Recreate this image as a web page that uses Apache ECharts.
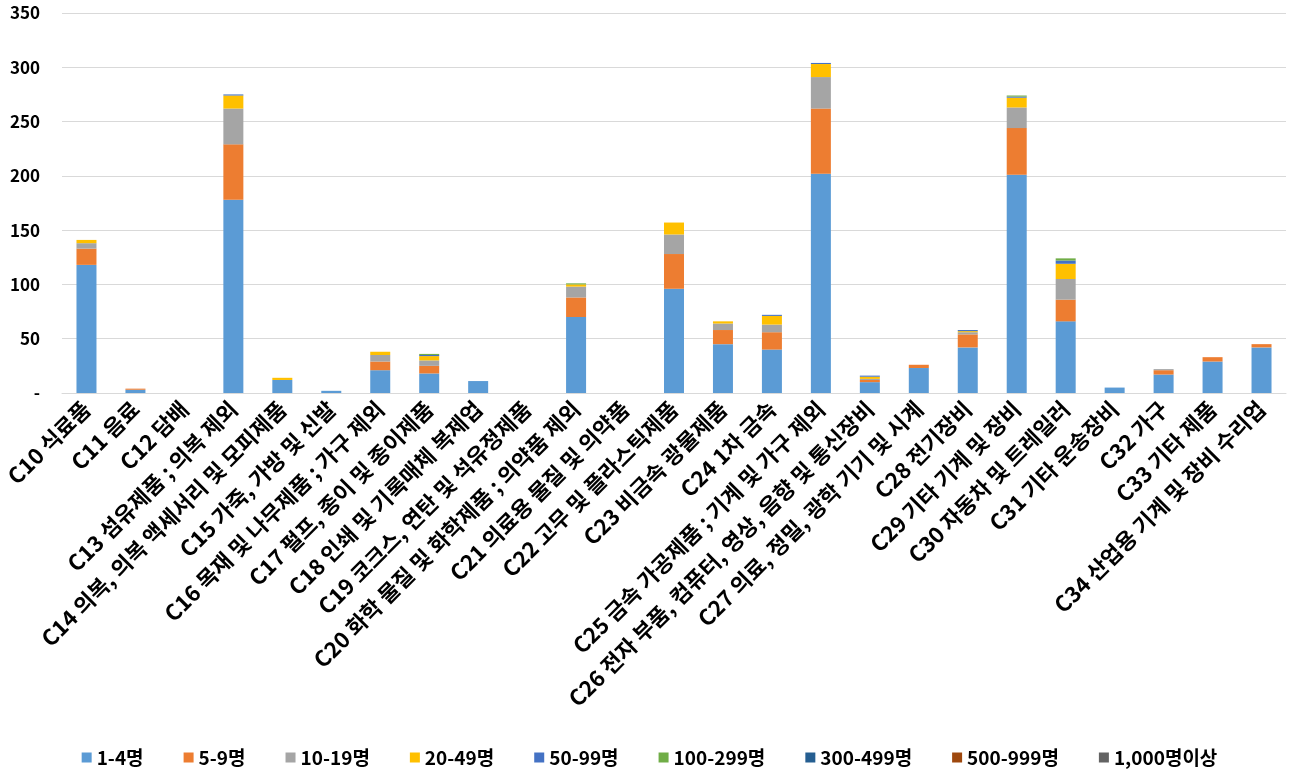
<!DOCTYPE html>
<html>
<head>
<meta charset="utf-8">
<script src="https://cdn.jsdelivr.net/npm/echarts@6/dist/echarts.min.js"></script>
<style>
html,body{margin:0;padding:0;background:#fff;}
#chart{width:1299px;height:780px;}
</style>
</head>
<body>
<div id="chart"></div>
<script>
const categories = [
  'C10 식료품','C11 음료','C12 담배','C13 섬유제품 ; 의복 제외','C14 의복, 의복 액세서리 및 모피제품',
  'C15 가죽, 가방 및 신발','C16 목재 및 나무제품 ; 가구 제외','C17 펄프, 종이 및 종이제품','C18 인쇄 및 기록매체 복제업',
  'C19 코크스, 연탄 및 석유정제품','C20 화학 물질 및 화학제품 ; 의약품 제외','C21 의료용 물질 및 의약품',
  'C22 고무 및 플라스틱제품','C23 비금속 광물제품','C24 1차 금속','C25 금속 가공제품 ; 기계 및 가구 제외',
  'C26 전자 부품, 컴퓨터, 영상, 음향 및 통신장비','C27 의료, 정밀, 광학 기기 및 시계','C28 전기장비',
  'C29 기타 기계 및 장비','C30 자동차 및 트레일러','C31 기타 운송장비','C32 가구','C33 기타 제품',
  'C34 산업용 기계 및 장비 수리업'
];
const seriesNames = ['1-4명','5-9명','10-19명','20-49명','50-99명','100-299명','300-499명','500-999명','1,000명이상'];
const s1_4     = [118, 3, 0, 178, 12, 2, 21, 18, 11, 0, 70, 0, 96, 45, 40, 202, 10, 23, 42, 201, 66, 5, 17, 29, 42];
const s5_9     = [15, 1, 0, 51, 0, 0, 8, 7, 0, 0, 18, 0, 32, 13, 16, 60, 2, 3, 12, 43, 20, 0, 4, 4, 3];
const s10_19   = [5, 0, 0, 33, 0, 0, 6, 5, 0, 0, 10, 0, 18, 6, 7, 29, 1, 0, 2, 19, 19, 0, 1, 0, 0];
const s20_49   = [3, 0, 0, 12, 2, 0, 3, 4, 0, 0, 2, 0, 11, 2, 8, 12, 2, 0, 1, 9, 14, 0, 0, 0, 0];
const s50_99   = [0, 0, 0, 1, 0, 0, 0, 1, 0, 0, 0, 0, 0, 0, 1, 1, 1, 0, 1, 1, 3, 0, 0, 0, 0];
const s100_299 = [0, 0, 0, 0, 0, 0, 0, 1, 0, 0, 1, 0, 0, 0, 0, 0, 0, 0, 0, 1, 2, 0, 0, 0, 0];
const s300_499 = [0, 0, 0, 0, 0, 0, 0, 0, 0, 0, 0, 0, 0, 0, 0, 0, 0, 0, 0, 0, 0, 0, 0, 0, 0];
const s500_999 = [0, 0, 0, 0, 0, 0, 0, 0, 0, 0, 0, 0, 0, 0, 0, 0, 0, 0, 0, 0, 0, 0, 0, 0, 0];
const s1000    = [0, 0, 0, 0, 0, 0, 0, 0, 0, 0, 0, 0, 0, 0, 0, 0, 0, 0, 0, 0, 0, 0, 0, 0, 0];
const yTicks = [0, 50, 100, 150, 200, 250, 300, 350];

const allData = [s1_4, s5_9, s10_19, s20_49, s50_99, s100_299, s300_499, s500_999, s1000];
const colors = ['#5B9BD5','#ED7D31','#A5A5A5','#FFC000','#4472C4','#70AD47','#255E91','#9E480E','#636363'];
const font = '"Noto Sans CJK KR",sans-serif';

const chart = echarts.init(document.getElementById('chart'));
chart.setOption({
  animation: false,
  color: colors,
  textStyle: { fontFamily: font },
  grid: { left: 62, right: 13, top: 13, bottom: 387 },
  legend: {
    bottom: 8,
    left: 'center',
    itemWidth: 10,
    itemHeight: 10,
    itemGap: 40,
    icon: 'rect',
    textStyle: { fontSize: 19, fontWeight: 'bold', color: '#000', fontFamily: font },
    data: seriesNames
  },
  xAxis: {
    type: 'category',
    data: categories,
    axisLine: { lineStyle: { color: '#d9d9d9', width: 1 } },
    axisTick: { show: false },
    axisLabel: {
      interval: 0,
      rotate: 45,
      margin: 12,
      fontSize: 22,
      fontWeight: 'bold',
      color: '#000',
      fontFamily: font
    }
  },
  yAxis: {
    type: 'value',
    min: 0,
    max: 350,
    interval: 50,
    axisLine: { show: false },
    axisTick: { show: false },
    splitLine: { lineStyle: { color: '#d9d9d9', width: 1 } },
    axisLabel: {
      margin: 22,
      fontSize: 17,
      fontWeight: 'bold',
      color: '#000',
      fontFamily: font,
      formatter: v => v === 0 ? '-' : String(v)
    }
  },
  series: seriesNames.map((n, i) => ({
    name: n,
    type: 'bar',
    stack: 'total',
    barWidth: 20,
    data: allData[i]
  }))
});
</script>
</body>
</html>
